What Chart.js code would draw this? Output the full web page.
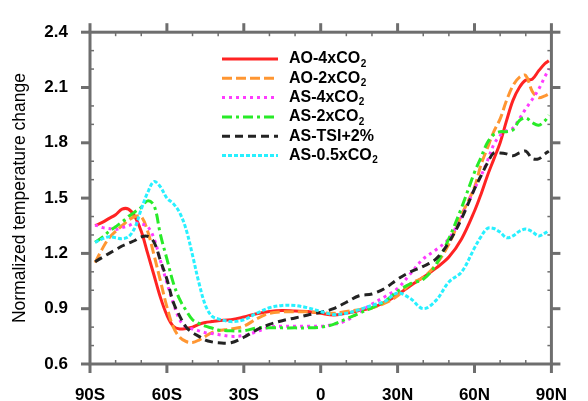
<!DOCTYPE html>
<html>
<head>
<meta charset="utf-8">
<script src="https://cdn.jsdelivr.net/npm/chart.js@4.4.0/dist/chart.umd.min.js"></script>
<style>
  html, body { margin: 0; padding: 0; background: #ffffff; }
  #marco { width: 588px; height: 401px; }
</style>
</head>
<body>
<div id="marco"><canvas id="graficoZonal"></canvas></div>
<script>
// Latitudes (deg, negative = south)
const latitudes = [-88, -85, -82.5, -80, -77.5, -75, -72.5, -70, -67.5, -65, -62.5, -60, -57.5, -55, -52.5, -50, -47.5, -45, -42.5, -40,
  -35, -30, -25, -20, -15, -10, -5, 0, 5, 10, 15, 20, 25, 30, 35, 40, 45, 50, 55,
  60, 62.5, 65, 67.5, 70, 72.5, 75, 77.5, 80, 82.5, 85, 87.5, 89];

// Normalized temperature change per experiment
const ao4xCO2 = [1.35, 1.37, 1.39, 1.41, 1.44, 1.44, 1.40, 1.32, 1.20, 1.08, 0.96, 0.865, 0.805, 0.79, 0.793, 0.80, 0.815, 0.825, 0.83, 0.835,
  0.84, 0.855, 0.873, 0.885, 0.89, 0.887, 0.885, 0.875, 0.866, 0.876, 0.89, 0.905, 0.935, 0.975, 1.025, 1.07, 1.12, 1.18, 1.28,
  1.43, 1.52, 1.62, 1.71, 1.80, 1.92, 2.03, 2.10, 2.14, 2.145, 2.19, 2.23, 2.245];
const ao2xCO2 = [1.15, 1.23, 1.285, 1.32, 1.35, 1.38, 1.40, 1.40, 1.32, 1.19, 1.05, 0.91, 0.80, 0.745, 0.722, 0.717, 0.73, 0.75, 0.77, 0.78,
  0.79, 0.805, 0.845, 0.875, 0.883, 0.884, 0.883, 0.878, 0.875, 0.885, 0.895, 0.905, 0.93, 0.97, 1.035, 1.07, 1.14, 1.25, 1.41,
  1.56, 1.68, 1.77, 1.86, 1.93, 2.03, 2.11, 2.155, 2.165, 2.08, 2.045, 2.055, 2.065];
const as4xCO2 = [1.355, 1.34, 1.335, 1.33, 1.34, 1.35, 1.365, 1.36, 1.345, 1.28, 1.16, 1.04, 0.93, 0.84, 0.80, 0.79, 0.78, 0.77, 0.765, 0.76,
  0.75, 0.755, 0.775, 0.80, 0.805, 0.805, 0.805, 0.805, 0.815, 0.835, 0.88, 0.925, 0.965, 1.01, 1.09, 1.17, 1.22, 1.28, 1.40,
  1.55, 1.62, 1.70, 1.79, 1.84, 1.865, 1.88, 1.93, 1.985, 2.035, 2.09, 2.16, 2.20];
const as2xCO2 = [1.26, 1.29, 1.32, 1.345, 1.37, 1.40, 1.425, 1.45, 1.485, 1.46, 1.30, 1.17, 1.04, 0.95, 0.89, 0.84, 0.82, 0.805, 0.795, 0.785,
  0.78, 0.78, 0.795, 0.797, 0.796, 0.796, 0.796, 0.80, 0.815, 0.845, 0.875, 0.905, 0.94, 0.995, 1.035, 1.06, 1.14, 1.28, 1.45,
  1.64, 1.72, 1.80, 1.845, 1.86, 1.86, 1.87, 1.92, 1.935, 1.91, 1.895, 1.92, 1.95];
const asTSI2 = [1.155, 1.18, 1.20, 1.22, 1.24, 1.255, 1.27, 1.29, 1.293, 1.26, 1.16, 1.06, 0.935, 0.86, 0.80, 0.77, 0.75, 0.73, 0.72, 0.715,
  0.715, 0.745, 0.785, 0.815, 0.835, 0.85, 0.866, 0.88, 0.90, 0.935, 0.97, 0.98, 1.01, 1.06, 1.10, 1.13, 1.17, 1.26, 1.39,
  1.55, 1.62, 1.69, 1.745, 1.745, 1.74, 1.73, 1.745, 1.755, 1.715, 1.713, 1.74, 1.755];
const as05xCO2 = [1.26, 1.28, 1.29, 1.285, 1.28, 1.29, 1.34, 1.44, 1.53, 1.59, 1.56, 1.50, 1.47, 1.42, 1.33, 1.19, 1.04, 0.92, 0.86, 0.845,
  0.83, 0.84, 0.875, 0.905, 0.918, 0.917, 0.905, 0.885, 0.868, 0.875, 0.895, 0.918, 0.94, 0.985, 0.955, 0.90, 0.945, 1.045, 1.10,
  1.23, 1.29, 1.335, 1.335, 1.315, 1.285, 1.295, 1.32, 1.332, 1.318, 1.295, 1.31, 1.325];

const seriesLabels = ['AO-4xCO₂', 'AO-2xCO₂', 'AS-4xCO₂', 'AS-2xCO₂', 'AS-TSI+2%', 'AS-0.5xCO₂'];

// Axis ticks
const xTickValues = [-90, -60, -30, 0, 30, 60, 90];
const xTickLabels = ['90S', '60S', '30S', '0', '30N', '60N', '90N'];
const yTickValues = [0.6, 0.9, 1.2, 1.5, 1.8, 2.1, 2.4];
const yTickLabels = ['0.6', '0.9', '1.2', '1.5', '1.8', '2.1', '2.4'];

const FUENTE = "'Liberation Sans', Arial, Helvetica, sans-serif";
const COLOR_EJE = '#6e6e6e';

const estilos = [
  { color: 'rgb(255, 35, 35)',  dash: [] },
  { color: 'rgb(255, 150, 50)', dash: [10, 4] },
  { color: 'rgb(255, 60, 255)', dash: [3, 4] },
  { color: 'rgb(40, 235, 40)',  dash: [10, 4, 3, 4] },
  { color: 'rgb(35, 35, 35)',   dash: [8, 5] },
  { color: 'rgb(40, 240, 255)', dash: [4, 2] }
];
const valores = [ao4xCO2, ao2xCO2, as4xCO2, as2xCO2, asTSI2, as05xCO2];

const datasets = valores.map((serie, i) => ({
  label: seriesLabels[i],
  data: serie.map((v, k) => ({ x: latitudes[k], y: v })),
  borderColor: estilos[i].color,
  borderDash: estilos[i].dash,
  borderWidth: 3,
  pointRadius: 0,
  fill: false,
  tension: 0.35,
  order: valores.length - i
}));

// frame with outward major ticks and inward minor ticks on all four sides
const marcoPlugin = {
  id: 'marcoPlugin',
  afterDatasetsDraw(chart) {
    const { ctx, chartArea: a, scales: { x, y } } = chart;
    const linea = (x1, y1, x2, y2) => { ctx.beginPath(); ctx.moveTo(x1, y1); ctx.lineTo(x2, y2); ctx.stroke(); };
    ctx.save();
    ctx.strokeStyle = COLOR_EJE;

    ctx.lineWidth = 1.5;
    for (let i = 0; i < xTickValues.length - 1; i++) {
      const paso = (xTickValues[i + 1] - xTickValues[i]) / 3;
      for (let j = 1; j < 3; j++) {
        const px = x.getPixelForValue(xTickValues[i] + paso * j);
        linea(px, a.bottom, px, a.bottom - 4);
        linea(px, a.top, px, a.top + 4);
      }
    }
    for (let i = 0; i < yTickValues.length - 1; i++) {
      const paso = (yTickValues[i + 1] - yTickValues[i]) / 3;
      for (let j = 1; j < 3; j++) {
        const py = y.getPixelForValue(yTickValues[i] + paso * j);
        linea(a.left, py, a.left + 4, py);
        linea(a.right, py, a.right - 4, py);
      }
    }

    ctx.lineWidth = 3;
    xTickValues.forEach(v => {
      const px = x.getPixelForValue(v);
      linea(px, a.bottom, px, a.bottom + 9);
      linea(px, a.top, px, a.top - 9);
    });
    yTickValues.forEach(v => {
      const py = y.getPixelForValue(v);
      linea(a.left, py, a.left - 9, py);
      linea(a.right, py, a.right + 9, py);
    });
    ctx.strokeRect(a.left, a.top, a.right - a.left, a.bottom - a.top);
    ctx.restore();
  }
};

// legend inside the plot, with subscript 2 in CO2
const leyendaPlugin = {
  id: 'leyendaPlugin',
  afterDraw(chart) {
    const { ctx } = chart;
    const x0 = 222, x1 = 278, xt = 289, y0 = 59, dy = 19.3;
    ctx.save();
    chart.data.datasets.forEach((ds, i) => {
      const yy = y0 + dy * i;
      ctx.strokeStyle = ds.borderColor;
      ctx.lineWidth = 3;
      ctx.setLineDash(ds.borderDash);
      ctx.beginPath();
      ctx.moveTo(x0, yy);
      ctx.lineTo(x1, yy);
      ctx.stroke();
      ctx.setLineDash([]);

      ctx.fillStyle = '#000';
      ctx.textBaseline = 'middle';
      ctx.textAlign = 'left';
      ctx.font = 'bold 16px ' + FUENTE;
      const partes = ds.label.split('₂');
      ctx.fillText(partes[0], xt, yy);
      if (partes.length > 1) {
        const w = ctx.measureText(partes[0]).width;
        ctx.font = 'bold 10px ' + FUENTE;
        ctx.fillText('2', xt + w + 0.5, yy + 5);
      }
    });
    ctx.restore();
  }
};

new Chart(document.getElementById('graficoZonal'), {
  type: 'line',
  data: { datasets },
  options: {
    responsive: true,
    maintainAspectRatio: false,
    animation: false,
    layout: { padding: { left: 0, right: 20, top: 20.7, bottom: 0 } },
    plugins: {
      legend: { display: false },
      tooltip: { enabled: false }
    },
    scales: {
      x: {
        type: 'linear',
        min: -90,
        max: 90,
        afterFit: s => { s.height = 37; },
        afterBuildTicks: s => { s.ticks = xTickValues.map(v => ({ value: v })); },
        grid: { display: false, drawTicks: false },
        border: { display: false },
        ticks: {
          padding: 21,
          color: '#000',
          maxRotation: 0,
          font: { size: 17, weight: 'bold', family: FUENTE },
          callback: v => xTickLabels[xTickValues.indexOf(v)]
        }
      },
      y: {
        type: 'linear',
        min: 0.6,
        max: 2.4,
        afterFit: s => { s.width = 90; },
        afterBuildTicks: s => { s.ticks = yTickValues.map(v => ({ value: v })); },
        grid: { display: false, drawTicks: false },
        border: { display: false },
        ticks: {
          padding: 22,
          color: '#000',
          font: { size: 17, weight: 'bold', family: FUENTE },
          callback: v => yTickLabels[yTickValues.findIndex(t => Math.abs(t - v) < 1e-6)]
        },
        title: {
          display: true,
          text: 'Normalized temperature change',
          color: '#000',
          padding: { top: 10, bottom: 0 },
          font: { size: 17.5, weight: 'normal', family: FUENTE }
        }
      }
    }
  },
  plugins: [marcoPlugin, leyendaPlugin]
});
</script>
</body>
</html>
